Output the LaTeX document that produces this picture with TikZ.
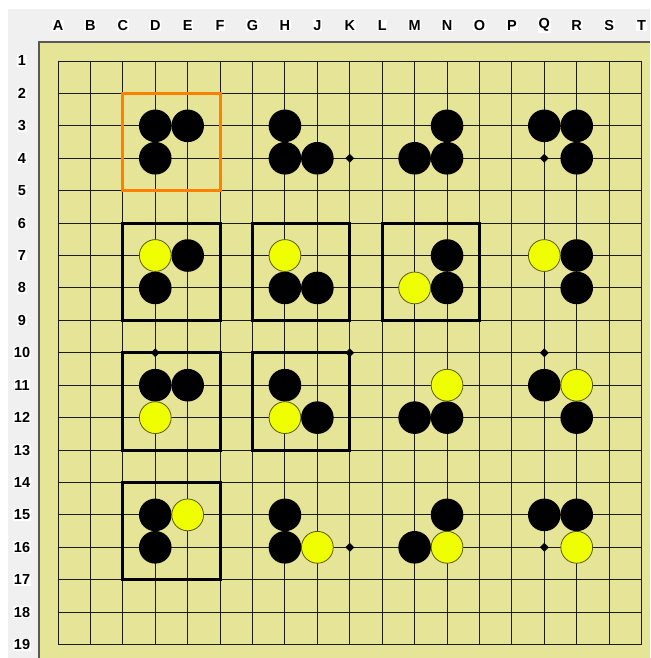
\documentclass[tikz,border=0pt]{standalone}
\usepackage{fontspec}
\newfontfamily\lblfont{Liberation Sans}
\usetikzlibrary{shapes.geometric}
\definecolor{panel}{HTML}{F0F0F0}
\definecolor{wood}{HTML}{E6E496}
\definecolor{gridc}{HTML}{1C1C14}
\definecolor{yel}{HTML}{F0FF00}
\definecolor{yeledge}{HTML}{5A5A10}
\definecolor{orangebox}{HTML}{FF8000}
\tikzset{
  gridline/.style={draw=gridc, line width=0.9pt},
  bstone/.style={circle, fill=black, minimum size=32.6pt, inner sep=0pt},
  ystone/.style={circle, fill=yel, draw=yeledge, line width=0.8pt, minimum size=31.8pt, inner sep=0pt},
  hoshi/.style={diamond, fill=black, minimum size=9pt, inner sep=0pt},
  framebox/.style={draw=black, line width=3pt},
  orangeframe/.style={draw=orangebox, line width=3pt},
  coordlbl/.style={fill=white, inner sep=0.8pt, font=\lblfont\bfseries\fontsize{14.5}{15}\selectfont, text=black}
}
\begin{document}
\begin{tikzpicture}[x=1pt, y=-1pt]
\useasboundingbox (0,0) rectangle (650,658);
\fill[white] (0,0) rectangle (650,658);
\fill[panel] (8,9) rectangle (650,658);
\fill[wood] (39,42) rectangle (650,658);
\draw[draw=black!65, line width=1.5pt] (39,658) -- (39,42) -- (650,42);
\begin{scope}[shift={(58,61)}, x=32.42pt, y=-32.42pt]
  % column and row labels
  \foreach \c [count=\i from 0] in {A,B,C,D,E,F,G,H,J,K,L,M,N,O,P,Q,R,S,T}
    \node[coordlbl] (col\c) at (\i,-1.10) {\c};
  \foreach \r in {1,...,19}
    \node[coordlbl] (row\r) at (-1.11,\r-1) {\r};
  % grid
  \foreach \i in {0,...,18} {
    \draw[gridline] (\i,0) -- (\i,18);
    \draw[gridline] (0,\i) -- (18,\i);
  }
  % star points
  \foreach \a/\b [count=\k] in {3/3,9/3,15/3,3/9,9/9,15/9,3/15,9/15,15/15}
    \node[hoshi] (hoshi\k) at (\a,\b) {};
  % frames
  \draw[orangeframe] (2,1) rectangle (5,4);
  \draw[framebox] (2,5) rectangle (5,8);
  \draw[framebox] (6,5) rectangle (9,8);
  \draw[framebox] (10,5) rectangle (13,8);
  \draw[framebox] (2,9) rectangle (5,12);
  \draw[framebox] (6,9) rectangle (9,12);
  \draw[framebox] (2,13) rectangle (5,16);
  % black stones (column index, row-1)
  \foreach \a/\b in {3/2,4/2,3/3, 7/2,7/3,8/3, 12/2,11/3,12/3, 15/2,16/2,16/3,
                     4/6,3/7, 7/7,8/7, 12/6,12/7, 16/6,16/7,
                     3/10,4/10, 7/10,8/11, 11/11,12/11, 15/10,16/11,
                     3/14,3/15, 7/14,7/15, 12/14,11/15, 15/14,16/14}
    \node[bstone] (b-\a-\b) at (\a,\b) {};
  % yellow stones
  \foreach \a/\b in {3/6, 7/6, 11/7, 15/6,
                     3/11, 7/11, 12/10, 16/10,
                     4/14, 8/15, 12/15, 16/15}
    \node[ystone] (y-\a-\b) at (\a,\b) {};
\end{scope}
\end{tikzpicture}
\end{document}
